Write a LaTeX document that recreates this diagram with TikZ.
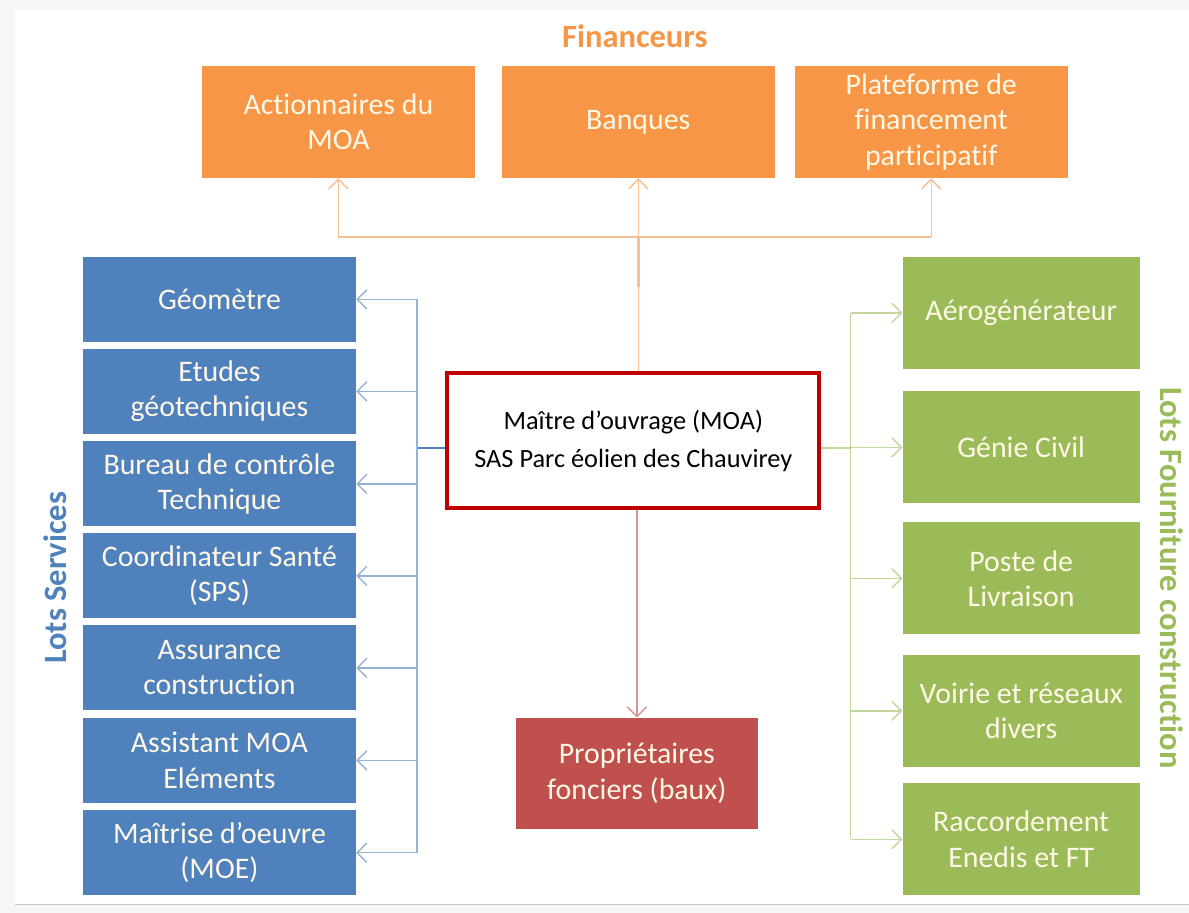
\documentclass[tikz,border=0pt]{standalone}
\usepackage{fontspec}
\setmainfont{Carlito}[Ligatures=NoCommon]
\usetikzlibrary{arrows.meta}
\definecolor{finorange}{HTML}{F79646}
\definecolor{svcblue}{HTML}{4F81BD}
\definecolor{lotgreen}{HTML}{9BBB59}
\definecolor{propred}{HTML}{C0504D}
\definecolor{moared}{HTML}{C00000}
\definecolor{boxtext}{HTML}{FFF8E6}
\definecolor{finlc}{HTML}{F9BE92}
\definecolor{svclc}{HTML}{95B3D7}
\definecolor{lotlc}{HTML}{C3D69B}
\definecolor{proplc}{HTML}{D99694}
\tikzset{
  box/.style={inner sep=0pt, align=center, text=boxtext, font=\fontsize{17}{20}\selectfont},
  finbox/.style={box, fill=finorange, minimum width=5.46cm, minimum height=2.24cm},
  svcbox/.style={box, fill=svcblue, minimum width=5.46cm, minimum height=1.70cm},
  lotbox/.style={box, fill=lotgreen, minimum width=4.74cm, minimum height=2.24cm},
  propbox/.style={box, fill=propred, minimum width=4.84cm, minimum height=2.22cm},
  moabox/.style={draw=moared, line width=2.3pt, fill=white, align=center, inner sep=0pt,
    minimum width=7.44cm, minimum height=2.70cm, font=\fontsize{15}{21.6}\selectfont},
  title/.style={inner sep=0pt, font=\fontsize{18.5}{22}\selectfont\bfseries},
  conn/.style={line width=0.8pt},
  tip/.style={-{Straight Barb[length=5.5pt,width=11pt]}},
}
\begin{document}
\begin{tikzpicture}[x=0.02cm,y=-0.02cm]
\fill[gray!7] (0,0) rectangle (1189,913);
\fill[white] (15,10) rectangle (1189,905);
\draw[gray!45] (15,905) -- (1189,905);
% financeurs
\node[title, text=finorange] (fin) at (635,36) {Financeurs};
\node[finbox] (act) at (338.5,122) {Actionnaires du\\MOA};
\node[finbox] (ban) at (638.5,122) {Banques};
\node[finbox] (pla) at (931.5,122) {Plateforme de\\financement\\participatif};
% maitre d'ouvrage
\node[moabox] (moa) at (633.5,441) {Maître d’ouvrage (MOA)\\SAS Parc éolien des Chauvirey};
\node[propbox] (pro) at (637,773.5) {Propriétaires\\fonciers (baux)};
% lots services
\foreach \n/\y/\t in {geo/299.5/Géomètre, etu/391.5/{Etudes\\géotechniques},
    bur/484/{Bureau de contrôle\\Technique}, sps/576/{Coordinateur Santé\\(SPS)},
    ass/668/{Assurance\\construction}, amo/760.5/{Assistant MOA\\Eléments},
    moe/853/{Maîtrise d’oeuvre\\(MOE)}}
  \node[svcbox] (\n) at (219.5,\y) {\t};
\node[title, text=svcblue, rotate=90] (svc) at (55,578) {Lots Services};
% lots fourniture
\foreach \n/\y/\t in {aer/313/Aérogénérateur, gen/447.5/Génie Civil,
    pos/578.5/{Poste de\\Livraison}, voi/711/{Voirie et réseaux\\divers},
    rac/839.5/{Raccordement\\Enedis et FT}}
  \node[lotbox] (\n) at (1021.5,\y) {\t};
\node[title, text=lotgreen, rotate=-90] (lot) at (1172,578) {Lots Fourniture construction};
% liaisons
\coordinate (fj) at (638.5,237);
\draw[conn, draw=finlc] (ban.south |- moa.north) -- (fj);
\draw[line width=1.6pt, draw=finlc] (fj) -- ++(0,50);
\draw[conn, draw=finlc] (act.south |- fj) -- (pla.south |- fj);
\foreach \n in {act,ban,pla} \draw[conn, tip, draw=finlc] (\n.south |- fj) -- (\n.south);
\coordinate (sj) at (417,448);
\draw[conn, draw=svcblue] (moa.west |- sj) -- (sj);
\draw[conn, draw=svclc] (sj |- geo.east) -- (sj |- moe.east);
\foreach \n in {geo,etu,bur,sps,ass,amo,moe} \draw[conn, tip, draw=svclc] (sj |- \n.east) -- (\n.east);
\coordinate (lj) at (851,448);
\draw[conn, draw=lotlc] (moa.east |- lj) -- (lj);
\draw[conn, draw=lotlc] (lj |- aer.west) -- (lj |- rac.west);
\foreach \n in {aer,gen,pos,voi,rac} \draw[conn, tip, draw=lotlc] (lj |- \n.west) -- (\n.west);
\draw[conn, tip, draw=proplc] (pro.north |- moa.south) -- (pro.north);
\end{tikzpicture}
\end{document}
